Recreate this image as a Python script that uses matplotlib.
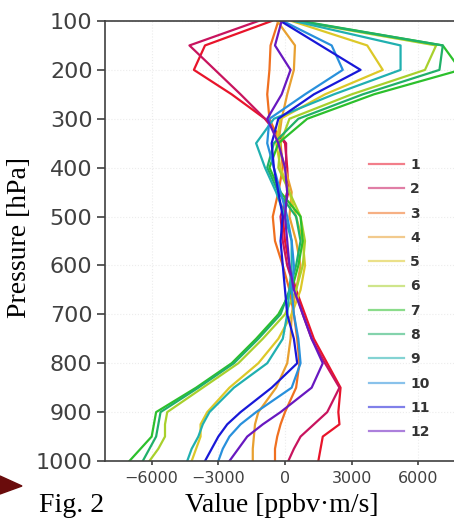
import numpy as np
from matplotlib import pyplot as plt
from matplotlib.lines import Line2D

levels = [100, 150, 200, 250, 300, 350, 400, 450, 500, 550, 600, 650, 700,
          750, 800, 850, 900, 925, 950, 975, 1000]

s1 = [-600, -3600, -4100, -2400, -900, 0, 100, 150, -100, 0, 200, 500, 900,
      1300, 1900, 2500, 2400, 2450, 1700, 1600, 1500]
s2 = [-1200, -4300, -3150, -2000, -900, 50, 50, 100, -200, -100, 100, 450, 800,
      1200, 1800, 2450, 1900, 1300, 700, 400, 150]
s3 = [-300, -650, -700, -800, -700, -200, -100, -300, -550, -450, -100, 200, 400,
      550, 650, 500, 0, -200, -350, -450, -450]
s4 = [-350, 450, 400, 100, -150, -300, 0, 300, 200, 500, 700, 500, 300,
      250, 100, -400, -1200, -1350, -1400, -1450, -1450]
s5 = [300, 3700, 4400, 1800, -200, -400, -200, 200, 500, 800, 900, 700, 300,
      -300, -1200, -2500, -3500, -3800, -3800, -4000, -4200]
s6 = [500, 6800, 6300, 3000, 200, -200, -300, 200, 700, 900, 800, 500, 0,
      -1000, -2100, -3700, -5300, -5400, -5400, -5700, -6100]
s7 = [700, 7100, 7900, 4000, 1000, -300, -700, -200, 700, 800, 600, 300, -300,
      -1300, -2400, -4000, -5800, -5900, -6000, -6500, -7000]
s8 = [600, 7100, 6950, 3500, 600, -500, -800, -300, 500, 700, 500, 200, -200,
      -1200, -2300, -3900, -5600, -5700, -5800, -6100, -6400]
s9 = [400, 5200, 5200, 2200, -500, -1300, -900, -400, 0, 300, 300, 200, 100,
      -100, -800, -2300, -3400, -3700, -3900, -4200, -4400]
s10 = [-100, 2100, 2600, 900, -700, -800, -500, -200, 100, 300, 400, 300, 400,
       600, 700, 300, -1300, -2000, -2500, -2800, -3000]
s11 = [-200, 1600, 3400, 1300, -300, -600, -500, -300, -100, -200, -100, 0, 100,
       400, 550, -600, -2000, -2600, -3000, -3300, -3600]
s12 = [-150, -450, 250, -150, -800, -300, 0, 100, 0, 100, 200, 400, 800,
       1200, 1700, 1200, -200, -1000, -1700, -2100, -2500]

series = [s1, s2, s3, s4, s5, s6, s7, s8, s9, s10, s11, s12]
names = ['1', '2', '3', '4', '5', '6', '7', '8', '9', '10', '11', '12']
colors = ['#e8142a', '#c8145e', '#f07020', '#e8a030', '#dcc828', '#a8d02c',
          '#2cc02c', '#20b068', '#20b0b0', '#2890dc', '#1818d8', '#6818c0']

fig = plt.figure(figsize=(4.54, 5.25), dpi=100)
ax = fig.add_axes([105/454, 1-461/525, 1-105/454, 440/525])

for s, c in zip(series, colors):
    ax.plot(s, levels, color=c, lw=1.6)

ax.set_ylim(1000, 100)
ax.set_xlim(-8100, 7605)
ax.set_yticks(range(100, 1001, 100))
ax.set_xticks([-6000, -3000, 0, 3000, 6000])
ax.grid(True, color='#ececec', lw=0.8, ls=':')
ax.spines['right'].set_visible(False)
for sp in ['left', 'bottom', 'top']:
    ax.spines[sp].set_color('#404040')
    ax.spines[sp].set_linewidth(1.2)
ax.tick_params(axis='y', direction='out', length=6, width=1.2, color='#404040',
               labelsize=16, labelcolor='#404040', pad=3)
ax.tick_params(axis='x', direction='out', length=3, width=1.2, color='#404040',
               labelsize=11.5, labelcolor='#404040', pad=4)

handles = [Line2D([], [], color=c, lw=1.6, alpha=0.55) for c in colors]
fig.legend(handles, names, loc='upper left', frameon=False,
           bbox_to_anchor=(369/454, 1-158/525), bbox_transform=fig.transFigure,
           borderpad=0, borderaxespad=0, handlelength=2.5, handletextpad=0.45,
           labelspacing=0.74, prop={'size': 10, 'weight': 'bold'}, labelcolor='#333333')

fig.text(20/454, 1-237/525, 'Pressure [hPa]', rotation=90, ha='center', va='center',
         family='Liberation Serif', size=20)
fig.text(282/454, 1-505/525, 'Value [ppbv\u00b7m/s]', ha='center', va='center',
         family='Liberation Serif', size=20)
fig.text(72/454, 1-505/525, 'Fig. 2', ha='center', va='center',
         family='Liberation Serif', size=20)

# little dark red arrow head at the left edge
fig.patches.append(plt.Polygon([(0, 1-476/525), (22/454, 1-486/525), (0, 1-494/525)],
                               closed=True, transform=fig.transFigure,
                               color='#6a0c0c', figure=fig))

plt.savefig('out.png', dpi=100)
